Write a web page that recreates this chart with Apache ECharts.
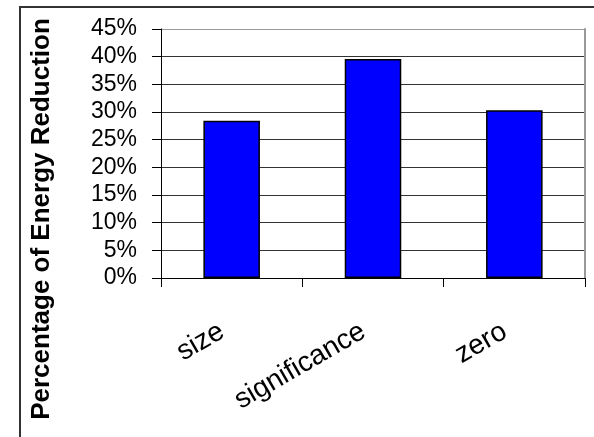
<!DOCTYPE html>
<html>
<head>
<meta charset="utf-8">
<script src="https://cdn.jsdelivr.net/npm/echarts@6/dist/echarts.min.js"></script>
<style>
html,body{margin:0;padding:0;background:#fff;}
#chart{width:594px;height:437px;}
</style>
</head>
<body>
<div id="chart"></div>
<script>
var categories = ['size', 'significance', 'zero'];
var reduction = [28.4, 39.6, 30.3];
var yTicks = [0, 5, 10, 15, 20, 25, 30, 35, 40, 45];
var yAxisTitle = 'Percentage of Energy Reduction';

var FONT = "'Liberation Sans', Arial, sans-serif";
var chart = echarts.init(document.getElementById('chart'), null, {renderer: 'canvas'});
var gridColors = yTicks.map(function (v, i) { return i === yTicks.length - 1 ? '#999999' : '#333333'; });

chart.setOption({
  animation: false,
  backgroundColor: '#ffffff',
  grid: {left: 161, top: 29, right: 9, bottom: 159, containLabel: false},
  graphic: [
    {type: 'rect', shape: {x: 20, y: 7, width: 700, height: 600}, style: {fill: 'none', stroke: '#333333', lineWidth: 2}, silent: true, z: 0},
    {type: 'text', x: 42, y: 219, rotation: Math.PI / 2,
     style: {text: yAxisTitle, font: 'bold 26px ' + FONT, fill: '#000', align: 'center', verticalAlign: 'middle'}}
  ],
  xAxis: {
    type: 'category',
    data: categories,
    boundaryGap: true,
    axisLine: {show: true, lineStyle: {color: '#000', width: 1}},
    axisTick: {show: true, inside: false, length: 9, alignWithLabel: false, lineStyle: {color: '#000'}},
    axisLabel: {rotate: 30, margin: 46, padding: [0, 11, 0, 0], fontSize: 28, fontFamily: FONT, color: '#000', interval: 0},
    splitLine: {show: false}
  },
  yAxis: [{
    type: 'value',
    min: yTicks[0],
    max: yTicks[yTicks.length - 1],
    interval: 5,
    axisLine: {show: true, lineStyle: {color: '#000', width: 1}},
    axisTick: {show: true, inside: false, length: 9, lineStyle: {color: '#000'}},
    axisLabel: {margin: 24, fontSize: 23, fontFamily: FONT, color: '#000', formatter: '{value}%'},
    splitLine: {show: true, lineStyle: {color: gridColors, width: 1}}
  }, {
    type: 'value',
    position: 'right',
    min: yTicks[0],
    max: yTicks[yTicks.length - 1],
    interval: 5,
    axisLine: {show: true, lineStyle: {color: '#999999', width: 2}},
    axisTick: {show: false},
    axisLabel: {show: false},
    splitLine: {show: false}
  }],
  series: [{
    type: 'bar',
    data: reduction,
    barWidth: '40%',
    itemStyle: {color: '#0000FF', borderColor: '#000', borderWidth: 1.5}
  }]
});
</script>
</body>
</html>
